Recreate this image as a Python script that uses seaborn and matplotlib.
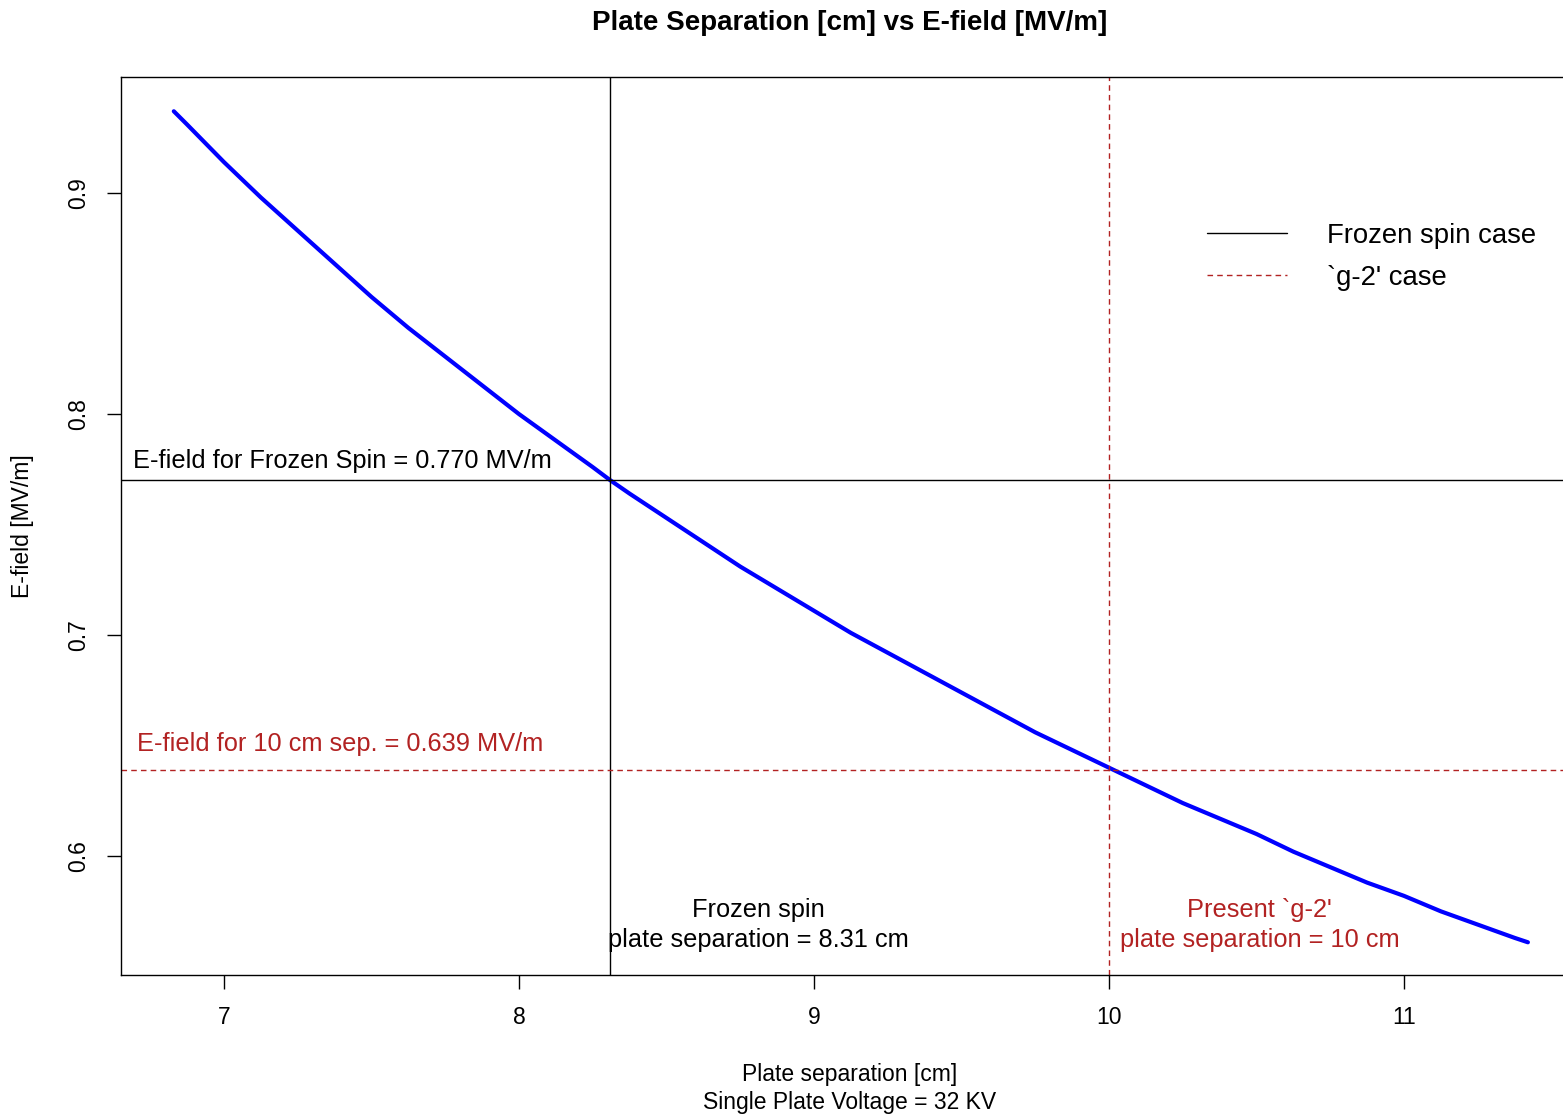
import numpy as np
import pandas as pd
import matplotlib
matplotlib.use("Agg")
import matplotlib.pyplot as plt
import seaborn as sns
from matplotlib.lines import Line2D

# values
sep_cm = [6.83, 6.875, 7.0, 7.125, 7.25, 7.375, 7.5, 7.625, 7.75, 7.875, 8.0,
          8.125, 8.25, 8.31, 8.375, 8.5, 8.625, 8.75, 8.875, 9.0, 9.125, 9.25,
          9.375, 9.5, 9.625, 9.75, 9.875, 10.0, 10.125, 10.25, 10.375, 10.5,
          10.625, 10.75, 10.875, 11.0, 11.125, 11.25, 11.375, 11.42]
efield = [0.937, 0.931, 0.914, 0.898, 0.883, 0.868, 0.853, 0.839, 0.826, 0.813, 0.800,
          0.788, 0.776, 0.770, 0.764, 0.753, 0.742, 0.731, 0.721, 0.711, 0.701, 0.692,
          0.683, 0.674, 0.665, 0.656, 0.648, 0.640, 0.632, 0.624, 0.617, 0.610,
          0.602, 0.595, 0.588, 0.582, 0.575, 0.569, 0.563, 0.561]

frozen_sep = 8.31
frozen_e = 0.770
g2_sep = 10
g2_e = 0.639

xticks = [7, 8, 9, 10, 11]
yticks = [0.6, 0.7, 0.8, 0.9]
red = "#B22222"

sns.set_style("ticks", {"text.color": "black", "axes.labelcolor": "black",
                        "xtick.color": "black", "ytick.color": "black",
                        "axes.edgecolor": "black"})
plt.rcParams['font.family'] = ['Liberation Sans', 'DejaVu Sans']

df = pd.DataFrame({'sep': sep_cm, 'E': efield})

fig = plt.figure(figsize=(15.63, 11.18), dpi=100)
ax = fig.add_axes([121 / 1563, 143 / 1118, 1460 / 1563, 898 / 1118])

sns.lineplot(data=df, x='sep', y='E', color='blue', linewidth=3, ax=ax)

ax.axvline(frozen_sep, color='black', lw=1)
ax.axhline(frozen_e, color='black', lw=1)
ax.axvline(g2_sep, color=red, lw=1, ls=(0, (4, 3)))
ax.axhline(g2_e, color=red, lw=1, ls=(0, (4, 3)))

ax.set_xlim(6.651, 11.6)
ax.set_ylim(0.5462, 0.9525)
ax.set_xticks(xticks)
ax.set_yticks(yticks)
ax.set_xticklabels([str(t) for t in xticks])
ax.set_yticklabels([f"{t:.1f}" for t in yticks], rotation=90, va='center')
ax.tick_params(direction='out', length=10, width=1, labelsize=16.5, pad=12, colors='black')
for s in ax.spines.values():
    s.set_visible(True)
    s.set_linewidth(1)
    s.set_color('black')
ax.set_xlabel('')
ax.set_ylabel('')

ax.annotate(f"E-field for Frozen Spin = {frozen_e:.3f} MV/m", (6.69, frozen_e),
            xytext=(0, 5), textcoords='offset points', va='bottom', ha='left', fontsize=18.3)
ax.annotate(f"E-field for 10 cm sep. = {g2_e:.3f} MV/m", (6.69, g2_e),
            xytext=(3, 10), textcoords='offset points', va='bottom', ha='left',
            fontsize=18.3, color=red)
ax.text(8.81, 0.5687, "Frozen spin\nplate separation = 8.31 cm", ha='center', va='center',
        fontsize=18.3, linespacing=1.33)
ax.text(10.51, 0.5687, "Present `g-2'\nplate separation = 10 cm", ha='center', va='center',
        fontsize=18.3, linespacing=1.33, color=red)

handles = [Line2D([], [], color='black', lw=1),
           Line2D([], [], color=red, lw=1, ls=(0, (4, 3)))]
ax.legend(handles, ["Frozen spin case", "`g-2' case"], loc='upper left',
          bbox_to_anchor=(1207 / 1563, 1 - 223 / 1118), bbox_transform=fig.transFigure,
          frameon=False, fontsize=19.8, handlelength=2.9, handletextpad=1.45,
          labelspacing=0.57, borderpad=0, borderaxespad=0)

fig.text(850 / 1563, 1 - 23 / 1118, "Plate Separation [cm] vs E-field [MV/m]",
         ha='center', va='center', fontsize=20, fontweight='bold')
fig.text(850 / 1563, 1 - 1075 / 1118, "Plate separation [cm]", ha='center', va='center', fontsize=16.5)
fig.text(850 / 1563, 1 - 1103 / 1118, "Single Plate Voltage = 32 KV", ha='center', va='center', fontsize=16.5)
fig.text(22 / 1563, 1 - 526 / 1118, "E-field [MV/m]", ha='center', va='center', rotation=90, fontsize=16.5)

fig.savefig("out.png", dpi=100)
